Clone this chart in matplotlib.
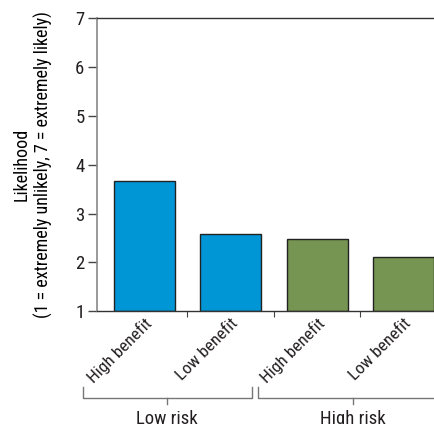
import numpy as np
import matplotlib
matplotlib.use("Agg")
import matplotlib.pyplot as plt
import matplotlib.transforms as mtransforms

# data
conditions = ["High benefit", "Low benefit", "High benefit", "Low benefit"]
likelihood = [3.67, 2.59, 2.49, 2.12]
risk_groups = ["Low risk", "High risk"]
bar_colors = ["#0096d6", "#0096d6", "#769552", "#769552"]

plt.rcParams['font.family'] = ['Roboto Condensed', 'DejaVu Sans']
plt.rcParams['text.color'] = '#231f20'
plt.rcParams['ytick.labelcolor'] = '#231f20'
plt.rcParams['xtick.labelcolor'] = '#231f20'

fig = plt.figure(figsize=(4.34, 4.24), dpi=100)
ax = fig.add_axes([0.2235, 0.2658, 0.79, 0.691])

x = np.arange(len(likelihood))
base = 1
ax.bar(x, np.array(likelihood) - base, bottom=base, width=0.706,
       color=bar_colors, edgecolor='#222222', linewidth=1.0, zorder=2)

ax.set_xlim(-0.545, 3.42)
ax.set_ylim(1, 7)
ax.set_yticks(np.arange(1, 8))
ax.tick_params(axis='y', labelsize=13.5, length=6.5, width=1.0, color='#444444', pad=2.5)

ax.set_xticks(x)
ax.set_xticklabels(conditions, rotation=45, ha='right', va='top',
                   rotation_mode='anchor', fontsize=12.5)
ax.tick_params(axis='x', which='major', length=0, pad=3)
ax.set_xticks(x[:-1] + 0.5, minor=True)
ax.tick_params(axis='x', which='minor', length=4, width=0.8, color='#444444')

for side in ['bottom', 'top']:
    ax.spines[side].set_color('#333333')
    ax.spines[side].set_linewidth(1.0)
ax.spines['left'].set_color('#888888')
ax.spines['left'].set_linewidth(1.2)
ax.spines['right'].set_visible(False)

ax.set_ylabel("Likelihood\n(1 = extremely unlikely, 7 = extremely likely)",
              fontsize=13, labelpad=16, linespacing=1.2)

# group brackets under the tick labels
tr = mtransforms.blended_transform_factory(ax.transData, ax.transAxes)
spans = [(-0.709, 1.243), (1.314, 3.45)]
for (x0, x1), name in zip(spans, risk_groups):
    ax.plot([x0, x0, x1, x1], [-0.258, -0.296, -0.296, -0.258], transform=tr,
            color='#777777', lw=1.0, clip_on=False)
    xc = (x0 + x1) / 2 if name == "Low risk" else 2.41
    ax.plot([xc, xc], [-0.296, -0.318], transform=tr, color='#777777', lw=1.0,
            clip_on=False)
    ax.text(xc, -0.336, name, transform=tr, ha='center', va='top', fontsize=13.5)

fig.savefig("out.png", dpi=100)
